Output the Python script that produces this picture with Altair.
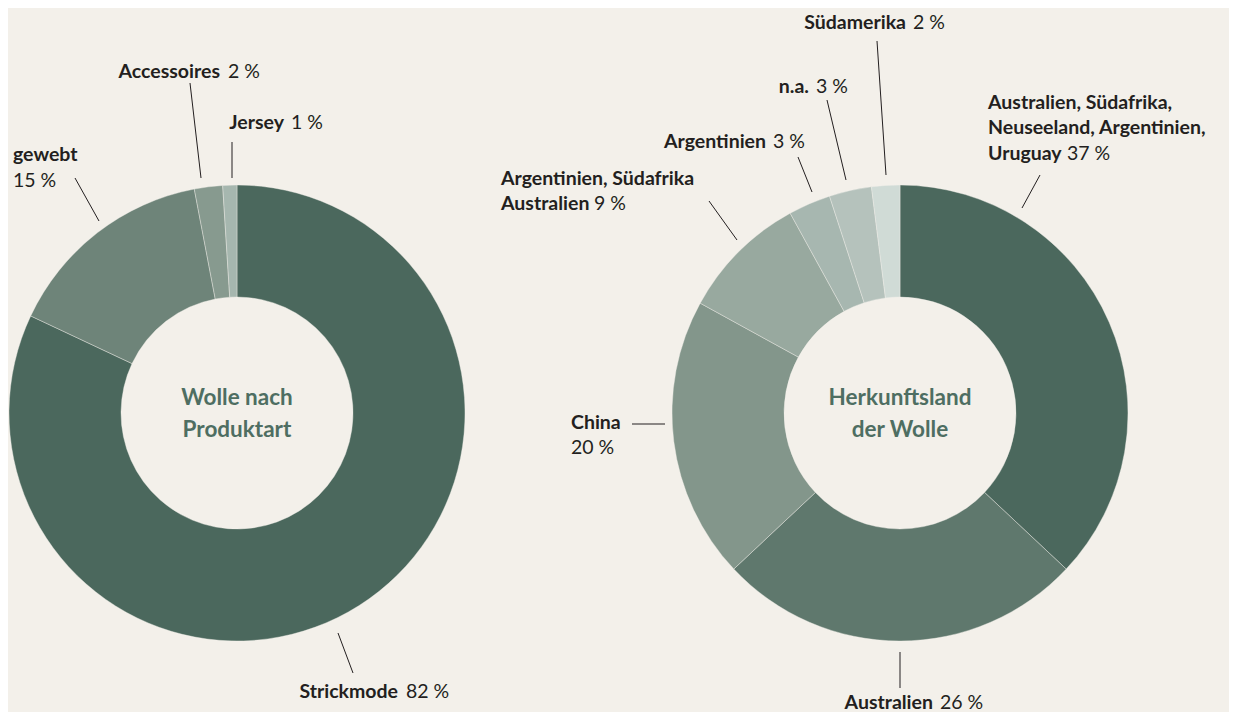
import altair as alt
import pandas as pd

# ---------------- data ----------------
left_cats = ["Strickmode", "gewebt", "Accessoires", "Jersey"]
left_vals = [82, 15, 2, 1]
left_colors = ["#4b685d", "#6e8479", "#879a8f", "#a6b7af"]

right_cats = ["Australien, Südafrika, Neuseeland, Argentinien, Uruguay", "Australien", "China",
              "Argentinien, Südafrika Australien", "Argentinien", "n.a.", "Südamerika"]
right_vals = [37, 26, 20, 9, 3, 3, 2]
right_colors = ["#4b685d", "#5f786d", "#83968b", "#98a99f", "#a7b7b0", "#b5c2bc", "#d0dbd6"]

center_titles = [["Wolle nach", "Produktart"], ["Herkunftsland", "der Wolle"]]

# ---------------- layout (reference pixel coordinates) ----------------
W, H = 1221, 704
BG = "#f3f0ea"
TXT = "#231f20"
CENTER_TXT = "#4e6e62"
FONT = "Lato"
FS = 19.5

pie_centers = [(237, 413), (900, 413)]
R_OUT, R_IN = 228, 116

# bold names ending right before their percentage (right-aligned at end x)
bold_right = [
    ("Accessoires", 220, 72), ("Jersey", 284, 123), ("Strickmode", 398, 692),
    ("Südamerika", 906, 23), ("n.a.", 809, 87), ("Argentinien", 766, 142),
    ("Australien", 933, 703),
]
# bold lines starting at a left edge
bold_left = [
    ("gewebt", 13, 155),
    ("Argentinien, Südafrika", 501, 179), ("Australien", 501, 204),
    ("Australien, Südafrika,", 988, 103), ("Neuseeland, Argentinien,", 988, 128), ("Uruguay", 988, 154),
    ("China", 571, 423),
]
reg_labels = [
    ("2 %", 228, 72), ("1 %", 291, 123), ("15 %", 13, 181), ("82 %", 406, 692),
    ("2 %", 913, 23), ("3 %", 816, 87), ("3 %", 773, 142),
    ("9 %", 594, 204), ("37 %", 1067, 154),
    ("20 %", 571, 448), ("26 %", 940, 703),
]
leaders = [
    (190, 83, 201, 178), (232, 142, 232, 178), (75, 178, 99, 221), (338, 633, 353, 673),
    (877, 41, 886, 175), (827, 100, 846, 180), (798, 157, 812, 192), (709, 201, 737, 240),
    (1040, 175, 1022, 208), (632, 424, 665, 424), (900, 652, 900, 688),
]

xs = alt.Scale(domain=[8, 8 + W], range=[0, W])
ys = alt.Scale(domain=[8 + H, 8])


def X(f):
    return alt.X(f, type="quantitative", scale=xs, axis=None)


def Y(f):
    return alt.Y(f, type="quantitative", scale=ys, axis=None)


layers = []
for (cx, cy), cats, vals, cols in [(pie_centers[0], left_cats, left_vals, left_colors),
                                   (pie_centers[1], right_cats, right_vals, right_colors)]:
    df = pd.DataFrame({"cat": cats, "val": vals, "col": cols, "idx": list(range(len(cats)))})
    arc = alt.Chart(df).mark_arc(innerRadius=R_IN, outerRadius=R_OUT, stroke=BG, strokeWidth=0.4).encode(
        theta=alt.Theta("val:Q", stack=True, scale=alt.Scale(domain=[0, 100])),
        order=alt.Order("idx:Q"),
        color=alt.Color("col:N", scale=None, legend=None),
        x=alt.X(datum=cx, scale=xs, axis=None),
        y=alt.Y(datum=cy, scale=ys, axis=None),
    )
    layers.append(arc)

# center titles
ct_rows = []
for (cx, cy), lines in zip(pie_centers, center_titles):
    ct_rows.append({"t": lines[0], "x": cx, "y": cy - 15})
    ct_rows.append({"t": lines[1], "x": cx, "y": cy + 17})
ct = alt.Chart(pd.DataFrame(ct_rows)).mark_text(
    font=FONT, fontSize=22.5, fontWeight="bold", color=CENTER_TXT, align="center", baseline="middle"
).encode(x=X("x"), y=Y("y"), text="t:N")
layers.append(ct)

for rows, al in [(bold_right, "right"), (bold_left, "left")]:
    bdf = pd.DataFrame(rows, columns=["t", "x", "y"])
    layers.append(alt.Chart(bdf).mark_text(
        font=FONT, fontSize=FS, fontWeight="bold", color=TXT, align=al, baseline="middle"
    ).encode(x=X("x"), y=Y("y"), text="t:N"))

rdf = pd.DataFrame(reg_labels, columns=["t", "x", "y"])
layers.append(alt.Chart(rdf).mark_text(
    font=FONT, fontSize=FS, fontWeight="normal", color=TXT, align="left", baseline="middle"
).encode(x=X("x"), y=Y("y"), text="t:N"))

ldf = pd.DataFrame(leaders, columns=["x1", "y1", "x2", "y2"])
layers.append(alt.Chart(ldf).mark_rule(color=TXT, strokeWidth=1).encode(
    x=X("x1"), y=Y("y1"), x2="x2:Q", y2="y2:Q"))

chart = alt.layer(*layers).properties(
    width=W, height=H, padding=0, autosize=alt.AutoSizeParams(type="none"), background=BG
).resolve_scale(theta="independent").configure_view(stroke=None)

chart.save("out.html", embed_options={"renderer": "svg", "actions": False})
